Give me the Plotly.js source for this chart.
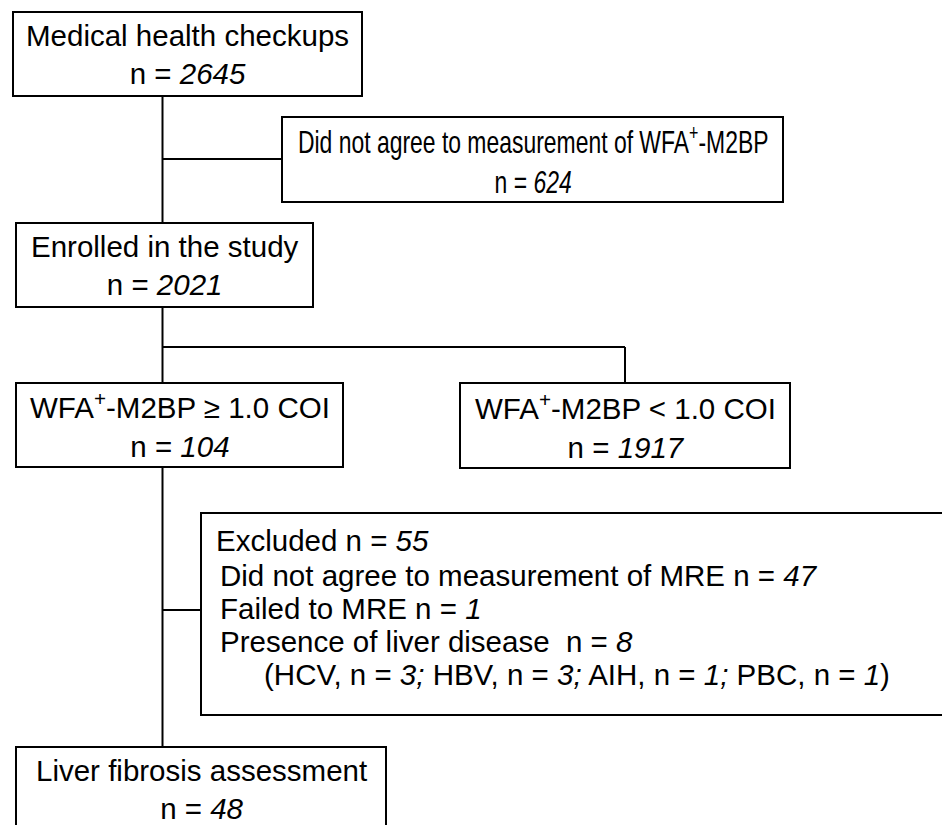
<!DOCTYPE html>
<html><head><meta charset="utf-8">
<script src="https://cdn.plot.ly/plotly-3.0.1.min.js"></script>
<style>
html,body{margin:0;padding:0;background:#fff}
.annotation[data-index="1"] text.annotation-text{transform-box:fill-box;transform-origin:center;transform:scaleX(0.74);}
</style>
</head><body><div id="chart" style="width:942px;height:825px"></div>
<script>
// ---- data ----
const stageLabels = [
  "Medical health checkups",
  "Did not agree to measurement of WFA<sup>+</sup>-M2BP",
  "Enrolled in the study",
  "WFA<sup>+</sup>-M2BP ≥ 1.0 COI",
  "WFA<sup>+</sup>-M2BP &lt; 1.0 COI",
  "Liver fibrosis assessment"
];
const stageCounts = [2645, 624, 2021, 104, 1917, 48];
const excludedLabel = "Excluded";
const excludedTotal = 55;
const exclusionReasons = ["Did not agree to measurement of MRE", "Failed to MRE", "Presence of liver disease&nbsp;"];
const exclusionCounts = [47, 1, 8];
const liverDiseases = ["HCV", "HBV", "AIH", "PBC"];
const liverDiseaseCounts = [3, 3, 1, 1];

// ---- layout geometry (positions only) ----
const boxes = [
  [13, 12, 362, 96],
  [282, 117, 783, 202],
  [16, 223, 313, 307],
  [16, 383, 343, 467],
  [460, 383, 790, 468],
  [16, 747, 386, 831]
];
const exBox = [201, 513, 960, 715];
const stemX = 162.5;
const connectors = [
  [stemX, 96, stemX, 223],
  [stemX, 159, 282, 159],
  [stemX, 307, stemX, 383],
  [stemX, 347, 625, 347],
  [625, 347, 625, 383],
  [stemX, 467, stemX, 747],
  [stemX, 610, 201, 610]
];
const exLineY = [540, 575, 608, 641, 674];
const exLineX = [214, 218, 218, 218, 262];

const FONT = "Liberation Sans, Arial, sans-serif";
const FS = 29.5;
const LW = 2;

const shapes = [];
boxes.forEach(b => shapes.push({type: 'rect', xref: 'x', yref: 'y', x0: b[0], y0: b[1], x1: b[2], y1: b[3], line: {color: '#000', width: LW}, fillcolor: 'rgba(0,0,0,0)'}));
shapes.push({type: 'rect', xref: 'x', yref: 'y', x0: exBox[0], y0: exBox[1], x1: exBox[2], y1: exBox[3], line: {color: '#000', width: LW}, fillcolor: 'rgba(0,0,0,0)'});
connectors.forEach(c => shapes.push({type: 'line', xref: 'x', yref: 'y', x0: c[0], y0: c[1], x1: c[2], y1: c[3], line: {color: '#000', width: LW}}));

const annotations = [];
stageLabels.forEach((lab, i) => {
  const b = boxes[i];
  annotations.push({
    xref: 'x', yref: 'y', x: (b[0] + b[2]) / 2, y: (b[1] + b[3]) / 2,
    text: lab + "<br>n = <i>" + stageCounts[i] + "</i>",
    showarrow: false, xanchor: 'center', yanchor: 'middle', align: 'center',
    font: {family: FONT, size: i === 1 ? 31 : FS, color: '#000'}
  });
});
const exTexts = [excludedLabel + " n = <i>" + excludedTotal + "</i>"];
exclusionReasons.forEach((r, i) => exTexts.push(r + " n = <i>" + exclusionCounts[i] + "</i>"));
exTexts.push("(" + liverDiseases.map((d, i) => d + ", n = <i>" + liverDiseaseCounts[i] + (i < liverDiseases.length - 1 ? ";</i>" : "</i>")).join(" ") + ")");
exTexts.forEach((t, i) => annotations.push({
  xref: 'x', yref: 'y', x: exLineX[i], y: exLineY[i], text: t,
  showarrow: false, xanchor: 'left', yanchor: 'middle', align: 'left',
  font: {family: FONT, size: FS, color: '#000'}
}));

const layout = {
  width: 942, height: 825,
  margin: {l: 0, r: 0, t: 0, b: 0},
  paper_bgcolor: '#fff', plot_bgcolor: '#fff',
  showlegend: false,
  xaxis: {range: [0, 942], visible: false, fixedrange: true},
  yaxis: {range: [825, 0], visible: false, fixedrange: true},
  shapes: shapes,
  annotations: annotations
};
Plotly.newPlot('chart', [], layout, {displayModeBar: false, staticPlot: true});
</script>
</body></html>
